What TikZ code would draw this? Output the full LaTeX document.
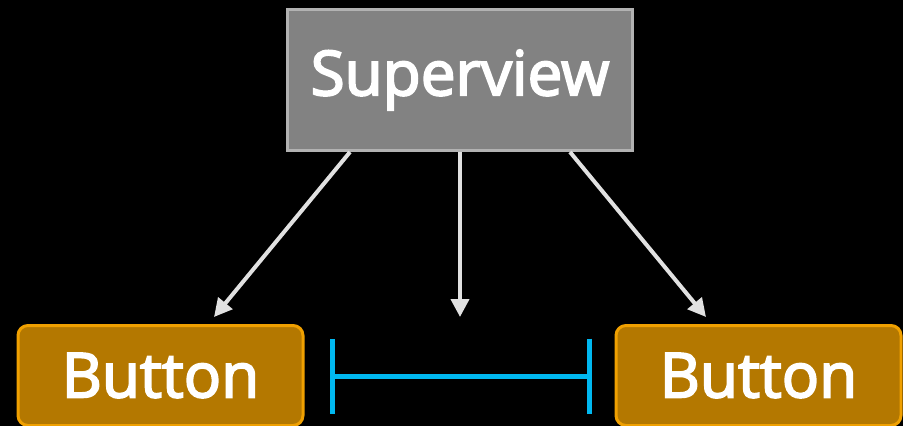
\documentclass[tikz,border=0pt]{standalone}
\usepackage{fontspec}
\setmainfont{Open Sans}
\newfontfamily\labelfont{Open Sans}[RawFeature={embolden=3}]
\usetikzlibrary{arrows.meta}
\definecolor{viewgray}{RGB}{130,130,130}
\definecolor{viewedge}{RGB}{178,178,178}
\definecolor{btnfill}{RGB}{180,120,0}
\definecolor{btnedge}{RGB}{240,160,0}
\definecolor{gapblue}{RGB}{0,184,240}
\definecolor{linkgray}{RGB}{225,225,225}

\begin{document}
\begin{tikzpicture}[x=1pt, y=-1pt,
    viewbox/.style={draw=viewedge, fill=viewgray, line width=3pt, minimum width=345pt, minimum height=141pt, text=white, font=\labelfont\fontsize{62}{70}\selectfont},
    btnbox/.style={draw=btnedge, fill=btnfill, line width=3pt, rounded corners=10pt, minimum width=285pt, minimum height=100pt, text=white, font=\labelfont\fontsize{62}{70}\selectfont},
    link/.style={draw=linkgray, line width=4pt, -{Triangle[length=18pt, width=18pt]}},
    spacer/.style={draw=gapblue, line width=5pt, {Bar[width=75pt]}-{Bar[width=75pt]}}]
    \fill[black] (0,0) rectangle (903,426);
    \useasboundingbox (0,0) rectangle (903,426);

    \node[viewbox] (super) at (460,80) {Superview};
    \node[btnbox] (btnA) at (160.5,375.5) {Button};
    \node[btnbox] (btnB) at (758.5,375.5) {Button};

    \coordinate (endA) at (214,317);
    \coordinate (endM) at (460,317);
    \coordinate (endB) at (706,317);
    \coordinate (gapL) at (330,376);
    \coordinate (gapR) at (592,376);

    \draw[link] (super.south -| 350,0) -- (endA);
    \draw[link] (super.south) -- (endM);
    \draw[link] (super.south -| 570,0) -- (endB);

    \draw[spacer] (gapL) -- (gapR);
\end{tikzpicture}
\end{document}
